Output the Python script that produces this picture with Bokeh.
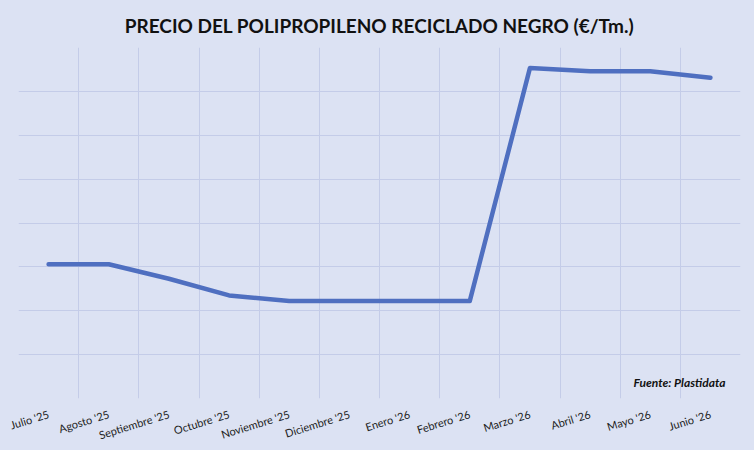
from bokeh.plotting import figure
from bokeh.models import Range1d, FixedTicker, Label
from bokeh.embed import file_html
from bokeh.resources import INLINE

months = ["Julio '25", "Agosto '25", "Septiembre '25", "Octubre '25", "Noviembre '25",
          "Diciembre '25", "Enero '26", "Febrero '26", "Marzo '26", "Abril '26",
          "Mayo '26", "Junio '26"]
prices = [306, 306, 273, 235, 222, 222, 222, 222, 753, 746, 746, 731]
y_ticks = [0, 100, 200, 300, 400, 500, 600, 700, 800]
title_text = "PRECIO DEL POLIPROPILENO RECICLADO NEGRO (€/Tm.)"
source_text = "Fuente: Plastidata"

BG = "#dce2f3"
GRID = "#c4cce8"
FONT = "Lato"

p = figure(width=754, height=450, output_backend="svg", toolbar_location=None,
           x_range=Range1d(0, len(months)), y_range=Range1d(y_ticks[0], y_ticks[-1]),
           min_border_left=18, min_border_right=14, min_border_top=47, min_border_bottom=50)
p.background_fill_color = BG
p.border_fill_color = BG
p.outline_line_color = None

xs = [i + 0.5 for i in range(len(months))]
p.line(xs, prices, line_color="#4f6fc0", line_width=4.5, line_cap="round", line_join="round")

p.title.text = title_text
p.title.align = "center"
p.title.text_font = FONT
p.title.text_font_size = "19px"
p.title.text_font_style = "bold"
p.title.text_color = "#111111"
p.title.standoff = 22

p.xaxis.ticker = FixedTicker(ticks=xs)
p.xaxis.major_label_overrides = {x: m for x, m in zip(xs, months)}
p.xaxis.major_label_orientation = 0.3
p.xaxis.major_label_text_font = FONT
p.xaxis.major_label_text_font_size = "11px"
p.xaxis.major_label_text_color = "#222222"
p.xaxis.major_tick_line_color = None
p.xaxis.minor_tick_line_color = None
p.xaxis.axis_line_color = None
p.xaxis.major_tick_out = 0
p.xaxis.major_tick_in = 0
p.xaxis.major_label_standoff = 15

p.yaxis.visible = False
p.yaxis.ticker = FixedTicker(ticks=y_ticks)

p.xgrid.ticker = FixedTicker(ticks=list(range(len(months) + 1)))
p.xgrid.grid_line_color = GRID
p.ygrid.grid_line_color = GRID

src = Label(x=11.75, y=37, text=source_text, text_align="right",
            text_baseline="alphabetic", text_font=FONT, text_font_size="12px",
            text_font_style="bold italic", text_color="#111111")
p.add_layout(src)

html = file_html(p, INLINE)
html = html.replace("</head>", "<style>html,body{margin:0;padding:0;overflow:hidden;background:%s}</style></head>" % BG, 1)
open("out.html", "w").write(html)
